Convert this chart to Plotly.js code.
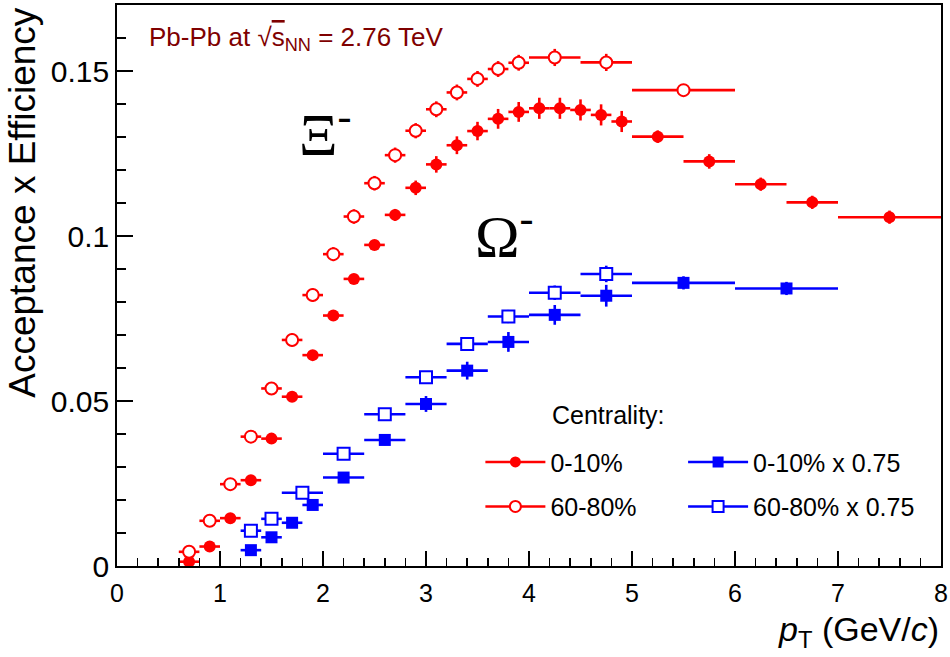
<!DOCTYPE html>
<html>
<head>
<meta charset="utf-8">
<script src="https://cdn.plot.ly/plotly-3.0.1.min.js"></script>
<style>
  body { margin: 0; background: #fff; }
  #chart { width: 950px; height: 657px; }
</style>
</head>
<body>
<div id="chart"></div>
<script>
// Xi-, 0-10%
var xiPt0010 = [0.7, 0.9, 1.1, 1.3, 1.5, 1.7, 1.9, 2.1, 2.3, 2.5, 2.7, 2.9, 3.1, 3.3, 3.5, 3.7, 3.9, 4.1, 4.3, 4.5, 4.7, 4.9, 5.25, 5.75, 6.25, 6.75, 7.5];
var xiBin0010 = [0.1, 0.1, 0.1, 0.1, 0.1, 0.1, 0.1, 0.1, 0.1, 0.1, 0.1, 0.1, 0.1, 0.1, 0.1, 0.1, 0.1, 0.1, 0.1, 0.1, 0.1, 0.1, 0.25, 0.25, 0.25, 0.25, 0.5];
var xiEff0010 = [0.0013, 0.0059, 0.0145, 0.0260, 0.0386, 0.0513, 0.0639, 0.0759, 0.0870, 0.0973, 0.1064, 0.1146, 0.1217, 0.1275, 0.1318, 0.1355, 0.1376, 0.1387, 0.1387, 0.1382, 0.1367, 0.1347, 0.1301, 0.1226, 0.1157, 0.1102, 0.1057];
var xiErr0010 = [0.0005, 0.0006, 0.0007, 0.0008, 0.0008, 0.0009, 0.0010, 0.0011, 0.0012, 0.0015, 0.0018, 0.0022, 0.0025, 0.0027, 0.0028, 0.0030, 0.0030, 0.0032, 0.0032, 0.0032, 0.0032, 0.0032, 0.0019, 0.0022, 0.0020, 0.0020, 0.0020];

// Xi-, 60-80%
var xiPt6080 = [0.7, 0.9, 1.1, 1.3, 1.5, 1.7, 1.9, 2.1, 2.3, 2.5, 2.7, 2.9, 3.1, 3.3, 3.5, 3.7, 3.9, 4.25, 4.75, 5.5];
var xiBin6080 = [0.1, 0.1, 0.1, 0.1, 0.1, 0.1, 0.1, 0.1, 0.1, 0.1, 0.1, 0.1, 0.1, 0.1, 0.1, 0.1, 0.1, 0.25, 0.25, 0.5];
var xiEff6080 = [0.0043, 0.0137, 0.0248, 0.0392, 0.0538, 0.0685, 0.0821, 0.0945, 0.1059, 0.1160, 0.1245, 0.1319, 0.1384, 0.1435, 0.1476, 0.1506, 0.1525, 0.1541, 0.1526, 0.1442];
var xiErr6080 = [0.0015, 0.0016, 0.0016, 0.0017, 0.0018, 0.0020, 0.0020, 0.0021, 0.0022, 0.0022, 0.0023, 0.0023, 0.0024, 0.0024, 0.0024, 0.0024, 0.0024, 0.0026, 0.0026, 0.0015];

// Omega-, 0-10% (x 0.75)
var omPt0010 = [1.3, 1.5, 1.7, 1.9, 2.2, 2.6, 3.0, 3.4, 3.8, 4.25, 4.75, 5.5, 6.5];
var omBin0010 = [0.1, 0.1, 0.1, 0.1, 0.2, 0.2, 0.2, 0.2, 0.2, 0.25, 0.25, 0.5, 0.5];
var omEff0010 = [0.0048, 0.0087, 0.0131, 0.0185, 0.0268, 0.0382, 0.0491, 0.0592, 0.0679, 0.0761, 0.0819, 0.0858, 0.0841];
var omErr0010 = [0.0005, 0.0007, 0.0009, 0.0011, 0.0013, 0.0016, 0.0024, 0.0027, 0.0030, 0.0030, 0.0033, 0.0020, 0.0020];

// Omega-, 60-80% (x 0.75)
var omPt6080 = [1.3, 1.5, 1.8, 2.2, 2.6, 3.0, 3.4, 3.8, 4.25, 4.75];
var omBin6080 = [0.1, 0.1, 0.2, 0.2, 0.2, 0.2, 0.2, 0.2, 0.25, 0.25];
var omEff6080 = [0.0107, 0.0143, 0.0222, 0.0340, 0.0460, 0.0572, 0.0673, 0.0756, 0.0828, 0.0885];
var omErr6080 = [0.0008, 0.0009, 0.0010, 0.0012, 0.0014, 0.0016, 0.0018, 0.0020, 0.0022, 0.0025];

var legendNames = ['0-10%', '60-80%', '0-10% x 0.75', '60-80% x 0.75'];

var RED = '#ff0000', BLUE = '#0000ff';
var FONT = 'Liberation Sans, Arial, sans-serif';

function points(x, xe, y, ye, color, symbol, open) {
  return {
    x: x, y: y,
    type: 'scatter', mode: 'markers',
    showlegend: false,
    cliponaxis: false,
    marker: {
      symbol: symbol, size: 12,
      color: open ? '#ffffff' : color,
      line: {color: color, width: open ? 2 : 0}
    },
    error_x: {type: 'data', array: xe, width: 0, thickness: 2.6, color: color},
    error_y: {type: 'data', array: ye, width: 0, thickness: 2.6, color: color},
    hoverinfo: 'x+y'
  };
}

// legend-only entries (line + marker like the ROOT legend)
function legendItem(name, color, symbol, open, legend) {
  return {
    x: [null], y: [null],
    type: 'scatter', mode: 'lines+markers',
    name: name, legend: legend, legendgroup: name,
    line: {color: color, width: 2.6},
    marker: {
      symbol: symbol, size: 11,
      color: open ? '#ffffff' : color,
      line: {color: color, width: open ? 2 : 0}
    }
  };
}

var data = [
  points(xiPt0010, xiBin0010, xiEff0010, xiErr0010, RED, 'circle', false),
  points(xiPt6080, xiBin6080, xiEff6080, xiErr6080, RED, 'circle', true),
  points(omPt0010, omBin0010, omEff0010, omErr0010, BLUE, 'square', false),
  points(omPt6080, omBin6080, omEff6080, omErr6080, BLUE, 'square', true),
  legendItem(legendNames[0], RED, 'circle', false, 'legend'),
  legendItem(legendNames[1], RED, 'circle', true, 'legend'),
  legendItem(legendNames[2], BLUE, 'square', false, 'legend2'),
  legendItem(legendNames[3], BLUE, 'square', true, 'legend2')
];

var legendStyle = {
  font: {family: FONT, size: 25, color: '#000'},
  bgcolor: 'rgba(0,0,0,0)',
  borderwidth: 0,
  itemwidth: 60,
  traceorder: 'grouped',
  tracegroupgap: 9,
  yanchor: 'top',
  xanchor: 'left',
  y: 0.226
};

var layout = {
  width: 950, height: 657,
  margin: {l: 117, r: 9, t: 5, b: 91},
  paper_bgcolor: '#fff',
  plot_bgcolor: '#fff',
  font: {family: FONT, color: '#000'},
  showlegend: true,
  legend: Object.assign({}, legendStyle, {x: 0.441}),
  legend2: Object.assign({}, legendStyle, {x: 0.687}),
  xaxis: {
    range: [0, 8],
    dtick: 1,
    showgrid: false, zeroline: false,
    showline: true, mirror: true, linecolor: '#000', linewidth: 1.8,
    ticks: 'inside', ticklen: 15, tickwidth: 1.5, tickcolor: '#000',
    minor: {dtick: 0.2, ticks: 'inside', ticklen: 8, tickwidth: 1.5, tickcolor: '#000'},
    ticklabelstandoff: 4,
    tickfont: {family: FONT, size: 25}
  },
  yaxis: {
    range: [0, 0.17],
    dtick: 0.05,
    showgrid: false, zeroline: false,
    showline: true, mirror: true, linecolor: '#000', linewidth: 1.8,
    ticks: 'inside', ticklen: 16, tickwidth: 1.5, tickcolor: '#000',
    minor: {dtick: 0.01, ticks: 'inside', ticklen: 9, tickwidth: 1.5, tickcolor: '#000'},
    tickfont: {family: FONT, size: 30}
  },
  annotations: [
    {
      xref: 'paper', yref: 'paper', x: -0.115, y: 1.0,
      xanchor: 'center', yanchor: 'top', textangle: -90,
      text: 'Acceptance x Efficiency', showarrow: false,
      font: {family: FONT, size: 37, color: '#000'}
    },
    {
      xref: 'paper', yref: 'paper', x: 1.0, y: -0.074,
      xanchor: 'right', yanchor: 'top',
      text: '<i>p</i><sub>T</sub> (GeV/<i>c</i>)', showarrow: false,
      font: {family: FONT, size: 34, color: '#000'}
    },
    {
      xref: 'paper', yref: 'paper', x: 0.036, y: 0.94,
      xanchor: 'left', yanchor: 'middle',
      text: 'Pb-Pb at \u221A<span style="text-decoration:overline">s</span><sub>NN</sub> = 2.76 TeV',
      showarrow: false,
      font: {family: FONT, size: 26, color: '#7f0000'}
    },
    {
      xref: 'paper', yref: 'paper', x: 0.218, y: 0.776,
      xanchor: 'left', yanchor: 'middle',
      text: '\u039E<sup>-</sup>', showarrow: false,
      font: {family: 'Liberation Serif, Times New Roman, serif', size: 60, color: '#000'}
    },
    {
      xref: 'paper', yref: 'paper', x: 0.432, y: 0.594,
      xanchor: 'left', yanchor: 'middle',
      text: '\u03A9<sup>-</sup>', showarrow: false,
      font: {family: 'Liberation Serif, Times New Roman, serif', size: 60, color: '#000'}
    },
    {
      xref: 'paper', yref: 'paper', x: 0.526, y: 0.269,
      xanchor: 'left', yanchor: 'middle',
      text: 'Centrality:', showarrow: false,
      font: {family: FONT, size: 25, color: '#000'}
    }
  ]
};

Plotly.newPlot('chart', data, layout, {displayModeBar: false, staticPlot: true});
</script>
</body>
</html>
